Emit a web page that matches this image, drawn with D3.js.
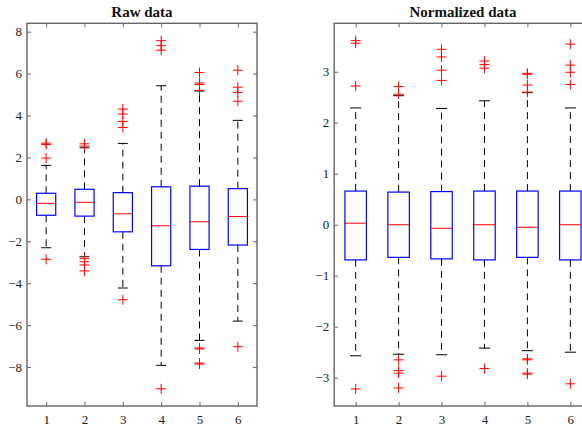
<!DOCTYPE html>
<html>
<head>
<meta charset="utf-8">
<script src="https://cdn.jsdelivr.net/npm/d3@7"></script>
<style>
  body { margin: 0; background: #fff; }
  text { font-family: "Liberation Serif", "DejaVu Serif", serif; }
</style>
</head>
<body>
<div id="chart"></div>
<script>
// Box plot data
const groups = ["1", "2", "3", "4", "5", "6"];

// raw data
const rawQ1 = [-0.76, -0.80, -1.55, -3.17, -2.39, -2.18];
const rawMed = [-0.19, -0.14, -0.69, -1.26, -1.07, -0.82];
const rawQ3 = [0.29, 0.48, 0.32, 0.60, 0.63, 0.51];
const rawLo = [-2.31, -2.74, -4.23, -7.92, -6.73, -5.81];
const rawHi = [1.62, 2.46, 2.67, 5.42, 5.17, 3.77];
const rawOut = [
  [2.62, 2.68, 1.97, -2.86],
  [2.54, 2.65, -2.83, -2.98, -3.13, -3.41],
  [4.31, 4.07, 3.72, 3.43, -4.79],
  [7.57, 7.33, 7.12, -9.04],
  [6.05, 5.55, 5.48, 5.2, -7.09, -7.14, -7.81, -7.86],
  [6.16, 5.35, 5.1, 4.68, -7.03]
];
const rawTicks = [-8, -6, -4, -2, 0, 2, 4, 6, 8];

// normalized data
const normQ1 = [-0.69, -0.64, -0.67, -0.69, -0.64, -0.69];
const normMed = [0.03, 0.0, -0.07, 0.0, -0.05, 0.0];
const normQ3 = [0.66, 0.64, 0.65, 0.66, 0.66, 0.66];
const normLo = [-2.57, -2.54, -2.55, -2.42, -2.47, -2.50];
const normHi = [2.29, 2.53, 2.28, 2.43, 2.59, 2.29];
const normOut = [
  [3.61, 3.56, 2.72, -3.22],
  [2.71, 2.56, -2.65, -2.86, -2.91, -3.20],
  [3.44, 3.29, 3.03, 2.83, -2.97],
  [3.21, 3.14, 3.07, -2.82],
  [2.97, 2.95, 2.74, 2.60, -2.63, -2.65, -2.91, -2.93],
  [3.54, 3.13, 2.99, 2.75, -3.12]
];
const normTicks = [-3, -2, -1, 0, 1, 2, 3];

const svg = d3.select("#chart").append("svg")
  .attr("width", 582)
  .attr("height", 427);

function drawPanel(opts) {
  const g = svg.append("g");
  const x = d3.scaleLinear().domain([0.5, 6.5]).range([opts.left, opts.right]);
  const y = d3.scaleLinear().domain(opts.yDomain).range([opts.bottom, opts.top]);
  const step = x(2) - x(1);
  const bw = step * 0.5, cw = step * 0.26;
  const frame = "#666";

  // frame
  g.append("rect")
    .attr("x", opts.left).attr("y", opts.top)
    .attr("width", opts.right - opts.left).attr("height", opts.bottom - opts.top)
    .attr("fill", "none").attr("stroke", frame).attr("stroke-width", 1.4);

  // axes, ticks pointing in
  const yl = g.append("g").attr("transform", `translate(${opts.left},0)`)
    .call(d3.axisLeft(y).tickValues(opts.ticks).tickSize(-4).tickPadding(5).tickFormat(d3.format("d")));
  const yr = g.append("g").attr("transform", `translate(${opts.right},0)`)
    .call(d3.axisRight(y).tickValues(opts.ticks).tickSize(-4).tickFormat(""));
  const xb = g.append("g").attr("transform", `translate(0,${opts.bottom})`)
    .call(d3.axisBottom(x).tickValues(d3.range(1, 7)).tickSize(-4).tickPadding(9).tickFormat((d, i) => groups[i]));
  const xt = g.append("g").attr("transform", `translate(0,${opts.top})`)
    .call(d3.axisTop(x).tickValues(d3.range(1, 7)).tickSize(-4).tickFormat(""));
  [yl, yr, xb, xt].forEach(a => {
    a.select(".domain").remove();
    a.selectAll("line").attr("stroke", frame);
    a.selectAll("text").attr("font-size", 13).attr("fill", "#222");
  });

  groups.forEach((c, i) => {
    const cx = x(i + 1);
    // whiskers
    g.append("line").attr("x1", cx).attr("x2", cx)
      .attr("y1", y(opts.q3[i])).attr("y2", y(opts.hi[i]))
      .attr("stroke", "#000").attr("stroke-dasharray", "7,5");
    g.append("line").attr("x1", cx).attr("x2", cx)
      .attr("y1", y(opts.q1[i])).attr("y2", y(opts.lo[i]))
      .attr("stroke", "#000").attr("stroke-dasharray", "7,5");
    [opts.hi[i], opts.lo[i]].forEach(v => {
      g.append("line").attr("x1", cx - cw / 2).attr("x2", cx + cw / 2)
        .attr("y1", y(v)).attr("y2", y(v)).attr("stroke", "#000");
    });
    // box
    g.append("rect")
      .attr("x", cx - bw / 2).attr("y", y(opts.q3[i]))
      .attr("width", bw).attr("height", y(opts.q1[i]) - y(opts.q3[i]))
      .attr("fill", "none").attr("stroke", "#0000ff").attr("stroke-width", 1.2);
    // median
    g.append("line").attr("x1", cx - bw / 2).attr("x2", cx + bw / 2)
      .attr("y1", y(opts.med[i])).attr("y2", y(opts.med[i]))
      .attr("stroke", "#ff0000");
    // outliers
    opts.out[i].forEach(v => {
      g.append("path")
        .attr("d", `M${cx - 5},${y(v)}H${cx + 5}M${cx},${y(v) - 5}V${y(v) + 5}`)
        .attr("stroke", "#ff0000").attr("fill", "none");
    });
  });

  svg.append("text")
    .attr("x", opts.titleX)
    .attr("y", 17)
    .attr("text-anchor", "middle")
    .attr("font-size", 15).attr("font-weight", "bold").attr("fill", "#111")
    .text(opts.title);
}

drawPanel({
  title: "Raw data", titleX: 142,
  left: 27, right: 257, top: 23.3, bottom: 406,
  yDomain: [-9.86, 8.4], ticks: rawTicks,
  q1: rawQ1, med: rawMed, q3: rawQ3, lo: rawLo, hi: rawHi, out: rawOut
});

drawPanel({
  title: "Normalized data", titleX: 463,
  left: 334.2, right: 591.8, top: 23.3, bottom: 406,
  yDomain: [-3.555, 3.95], ticks: normTicks,
  q1: normQ1, med: normMed, q3: normQ3, lo: normLo, hi: normHi, out: normOut
});
</script>
</body>
</html>
